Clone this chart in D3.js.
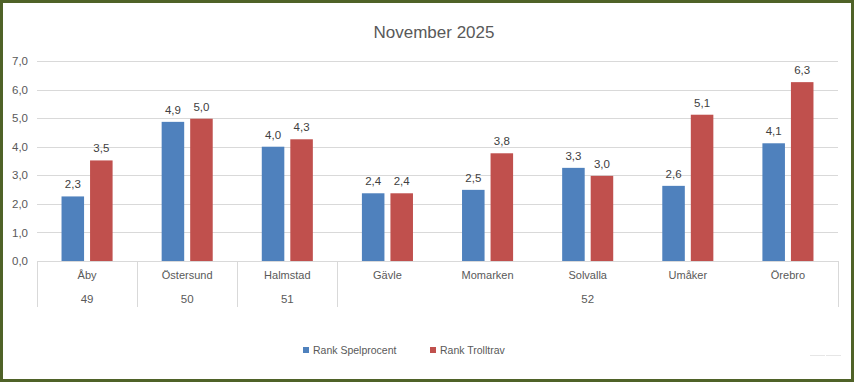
<!DOCTYPE html>
<html><head><meta charset="utf-8">
<script src="https://cdn.jsdelivr.net/npm/d3@7"></script>
<style>body{margin:0;background:#fff}svg{display:block}</style>
</head><body>
<svg id="c" width="854" height="382"></svg>
<script>
const title = "November 2025";
const categories = ["Åby","Östersund","Halmstad","Gävle","Momarken","Solvalla","Umåker","Örebro"];
const groups = [{label:"49", from:0, to:0},{label:"50", from:1, to:1},{label:"51", from:2, to:2},{label:"52", from:3, to:7}];
const seriesNames = ["Rank Spelprocent","Rank Trolltrav"];
const spelprocent = [2.26, 4.87, 4.0, 2.37, 2.49, 3.26, 2.63, 4.12];
const trolltrav   = [3.52, 4.98, 4.26, 2.37, 3.77, 2.98, 5.12, 6.26];
const yTicks = [0,1,2,3,4,5,6,7];
const colors = ["#4f81bd","#c0504d"];

(function(){
const font = "'Liberation Sans', Arial, sans-serif";
const textCol = "#595959";
const svg = d3.select("#c");
const W = 854, H = 382;
const pLeft = 37, pRight = 838, pTop = 61, pBottom = 261;

const x0 = d3.scaleBand().domain(categories).range([pLeft, pRight]).padding(0);
const x1 = d3.scaleBand().domain(seriesNames).range([x0.bandwidth()*0.245, x0.bandwidth()*0.755]).paddingInner(0.21);
const y = d3.scaleLinear().domain([0,7]).range([pBottom, pTop]);
const fmt = v => d3.format(".1f")(v).replace(".", ",");

svg.append("text").attr("x", 434).attr("y", 38).attr("text-anchor","middle")
  .attr("font-family", font).attr("font-size", 17).attr("fill", textCol).text(title);

svg.append("g").selectAll("line").data(yTicks.filter(d=>d>0)).join("line")
  .attr("x1", pLeft).attr("x2", pRight).attr("y1", d=>Math.round(y(d))+0.5).attr("y2", d=>Math.round(y(d))+0.5)
  .attr("stroke", "#d9d9d9").attr("stroke-width", 1);

const yAxis = d3.axisLeft(y).tickValues(yTicks).tickFormat(fmt).tickSize(0).tickPadding(9);
const ya = svg.append("g").attr("transform", `translate(${pLeft},0)`).call(yAxis);
ya.select(".domain").remove();
ya.selectAll("text").attr("font-family", font).attr("font-size", 11.5).attr("fill", textCol);

const data = categories.map((c,i)=>({cat:c, vals:[spelprocent[i], trolltrav[i]]}));
const cg = svg.append("g").selectAll("g").data(data).join("g")
  .attr("transform", d=>`translate(${x0(d.cat)},0)`);
cg.selectAll("rect").data(d=>d.vals.map((v,k)=>({v, s:seriesNames[k], k}))).join("rect")
  .attr("x", d=>x1(d.s)).attr("width", x1.bandwidth())
  .attr("y", d=>y(d.v)).attr("height", d=>y(0)-y(d.v))
  .attr("fill", d=>colors[d.k]);
cg.selectAll("text").data(d=>d.vals.map((v,k)=>({v, s:seriesNames[k], k}))).join("text")
  .attr("x", d=>x1(d.s)+x1.bandwidth()/2).attr("y", d=>y(d.v)-8)
  .attr("text-anchor","middle").attr("font-family", font).attr("font-size", 11.5).attr("fill", "#404040")
  .text(d=>fmt(d.v));

svg.append("line").attr("x1", pLeft).attr("x2", pRight).attr("y1", pBottom+0.5).attr("y2", pBottom+0.5)
  .attr("stroke", "#d9d9d9");

const xAxis = d3.axisBottom(x0).tickSize(0).tickPadding(10);
const xa = svg.append("g").attr("transform", `translate(0,${pBottom})`).call(xAxis);
xa.select(".domain").remove();
xa.selectAll("text").attr("font-family", font).attr("font-size", 11).attr("fill", textCol);

const seps = groups.map(g=>x0(categories[g.from]));
seps.push(pRight);
svg.append("g").selectAll("line").data(seps).join("line")
  .attr("x1", d=>Math.round(d)+0.5).attr("x2", d=>Math.round(d)+0.5)
  .attr("y1", pBottom).attr("y2", 307).attr("stroke", "#d9d9d9");
svg.append("g").selectAll("text").data(groups).join("text")
  .attr("x", g=>(x0(categories[g.from]) + x0(categories[g.to]) + x0.bandwidth())/2)
  .attr("y", 303).attr("text-anchor","middle")
  .attr("font-family", font).attr("font-size", 11.5).attr("fill", textCol).text(g=>g.label);

const legX = [303, 430];
const lg = svg.append("g").selectAll("g").data(seriesNames).join("g")
  .attr("transform", (d,i)=>`translate(${legX[i]},347)`);
lg.append("rect").attr("width", 6).attr("height", 6).attr("fill", (d,i)=>colors[i]);
lg.append("text").attr("x", 10).attr("y", 7).attr("font-family", font).attr("font-size", 10.5)
  .attr("fill", textCol).text(d=>d);

svg.append("g").selectAll("line").data([[810,825],[826,841]]).join("line")
  .attr("x1", d=>d[0]).attr("x2", d=>d[1]).attr("y1", 355.5).attr("y2", 355.5).attr("stroke", "#e6e6e6");

svg.append("rect").attr("x", 1.5).attr("y", 1.5).attr("width", W-3).attr("height", H-3)
  .attr("fill", "none").attr("stroke", "#4f6228").attr("stroke-width", 3);
})();
</script>
</body></html>
